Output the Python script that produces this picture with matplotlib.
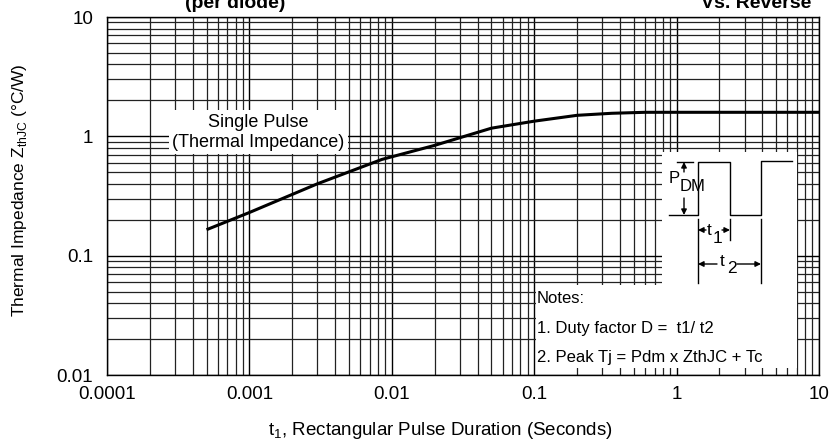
import matplotlib
matplotlib.use("Agg")
import matplotlib.pyplot as plt
import matplotlib.transforms as mtransforms
from matplotlib.patches import Rectangle
from matplotlib.ticker import LogLocator, NullFormatter, FixedLocator, FixedFormatter

plt.rcParams["font.family"] = ["Liberation Sans", "DejaVu Sans"]

# pulse duration (s) and single-pulse thermal impedance (degC/W)
t_pulse = [0.0005, 0.001, 0.003, 0.0085, 0.02, 0.05, 0.1, 0.2, 0.35, 0.6, 1.0, 10.0]
z_th = [0.165, 0.23, 0.40, 0.64, 0.84, 1.17, 1.34, 1.50, 1.56, 1.59, 1.59, 1.59]

x_ticks = [0.0001, 0.001, 0.01, 0.1, 1, 10]
x_ticklabels = ["0.0001", "0.001", "0.01", "0.1", "1", "10"]
y_ticks = [0.01, 0.1, 1, 10]
y_ticklabels = ["0.01", "0.1", "1", "10"]

notes = ["Notes:", "1. Duty factor D =  t1/ t2", "2. Peak Tj = Pdm x ZthJC + Tc"]

W, H = 830, 441
fig = plt.figure(figsize=(W / 100, H / 100), dpi=100)
ax = fig.add_axes([107 / W, 1 - 375 / H, (819 - 107) / W, (375 - 17) / H])

ax.plot(t_pulse, z_th, color="black", linewidth=2.2, zorder=4, solid_capstyle="butt")
ax.set_xscale("log")
ax.set_yscale("log")
ax.set_xlim(0.0001, 10)
ax.set_ylim(0.01, 10)

ax.xaxis.set_major_locator(FixedLocator(x_ticks))
ax.xaxis.set_major_formatter(FixedFormatter(x_ticklabels))
ax.yaxis.set_major_locator(FixedLocator(y_ticks))
ax.yaxis.set_major_formatter(FixedFormatter(y_ticklabels))
for axis in (ax.xaxis, ax.yaxis):
    axis.set_minor_locator(LogLocator(base=10, subs=range(2, 10), numticks=20))
    axis.set_minor_formatter(NullFormatter())
ax.tick_params(which="both", length=0, labelsize=13.5, colors="black")
ax.tick_params(axis="x", pad=8)
ax.tick_params(axis="y", pad=10)

ax.set_axisbelow(True)
ax.grid(True, which="major", color="black", linewidth=1.0)
ax.grid(True, which="minor", color="#222222", linewidth=0.9)
for sp in ax.spines.values():
    sp.set_linewidth(1.0)

fig.text(440 / W, 1 - 435 / H, "t$_{\\mathregular{1}}$, Rectangular Pulse Duration (Seconds)",
         fontsize=13.5, ha="center", va="baseline")
fig.text(20 / W, 1 - 190 / H, "Thermal Impedance Z$_{\\mathregular{thJC}}$ (\u00b0C/W)",
         fontsize=12.5, rotation=90, ha="center", va="center")

# curve label
ax.text(0.00116, 1.08, "Single Pulse\n(Thermal Impedance)", fontsize=13, ha="center", va="center",
        linespacing=1.2, zorder=3,
        bbox=dict(facecolor="white", edgecolor="none", boxstyle="square,pad=0.2"))

# pixel transform for the inset drawing
px = mtransforms.Affine2D().scale(1 / W, -1 / H).translate(0, 1) + fig.transFigure

ax.add_patch(Rectangle((662, 152), 797 - 662, 285 - 152, transform=px, facecolor="white",
                       edgecolor="none", zorder=2, clip_on=False))
ax.add_patch(Rectangle((536, 285), 797 - 536, 368 - 285, transform=px, facecolor="white",
                       edgecolor="none", zorder=2, clip_on=False))

lw = 1.0
def seg(xs, ys):
    ax.plot(xs, ys, color="black", linewidth=lw, transform=px, clip_on=False, zorder=3)

def arrow(x0, y0, x1, y1):
    ax.annotate("", xy=(x1, y1), xytext=(x0, y0), xycoords=px, textcoords=px,
                arrowprops=dict(arrowstyle="-|>", color="black", lw=lw, mutation_scale=8,
                                shrinkA=0, shrinkB=0),
                annotation_clip=False, zorder=3)

def px_text(x, y, s, size=12.5):
    fig.text(x / W, 1 - y / H, s, fontsize=size, ha="left", va="baseline")

# pulse train
seg([669, 698, 698, 730, 730, 761, 761, 792], [215, 215, 162, 162, 215, 215, 161, 161])
# P_DM marker
seg([677, 693], [162, 162])
arrow(684, 172, 684, 162)
arrow(684, 198, 684, 215)
px_text(669, 183, "P", 12)
px_text(680, 191, "DM", 12)
# extension lines
seg([698, 698], [219, 283])
seg([730, 730], [219, 240])
seg([761, 761], [219, 283])
# t1 / t2 arrows
arrow(706, 230, 698, 230)
arrow(722, 230, 730, 230)
arrow(717, 264, 698, 264)
arrow(737, 264, 761, 264)
px_text(707, 235, "t")
px_text(713, 243, "1")
px_text(720, 266, "t")
px_text(727, 273, "2")

# notes
for y, line in zip([303, 333, 362], notes):
    px_text(537, y, line, 12)

# clipped header texts from the page above
fig.text(185 / W, 1 - 8 / H, "(per diode)", fontsize=14, fontweight="bold", ha="left", va="baseline")
fig.text(701 / W, 1 - 8 / H, "Vs. Reverse", fontsize=14, fontweight="bold", ha="left", va="baseline")

fig.savefig("out.png", dpi=100)
